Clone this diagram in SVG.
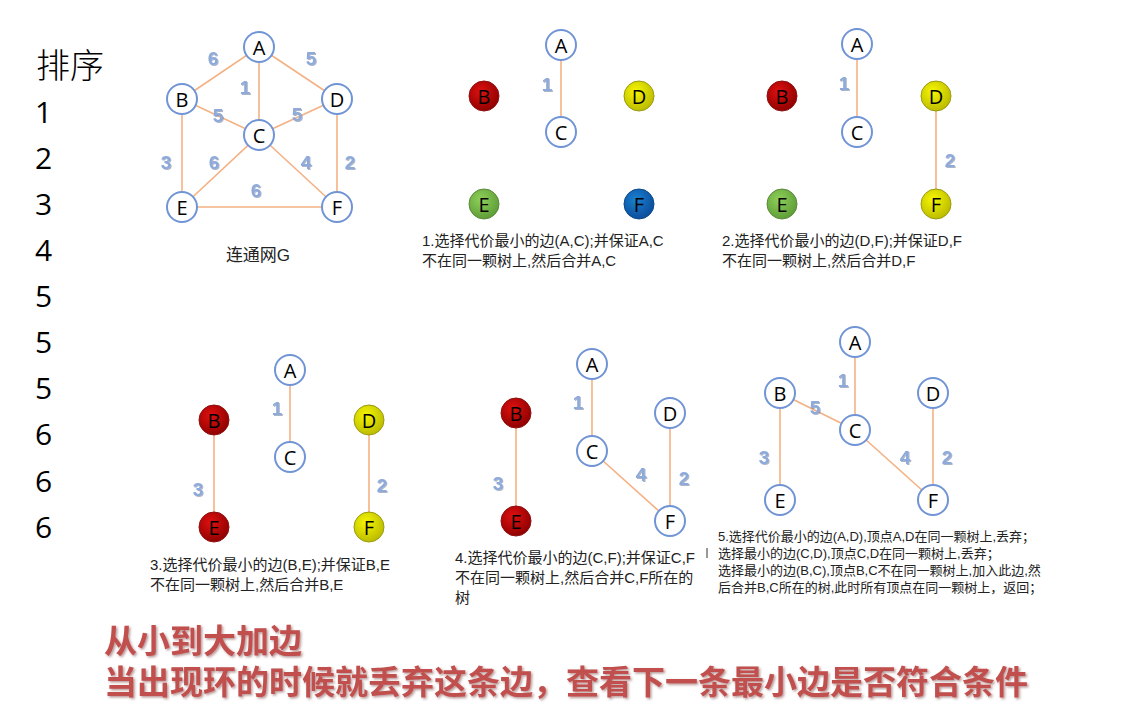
<svg xmlns="http://www.w3.org/2000/svg" width="1134" height="709" viewBox="0 0 1134 709">
<defs>
<style>
.n{fill:#fff;stroke:#7094d6;stroke-width:2}
.red{fill:url(#gR);stroke:#8f1010;stroke-width:1}
.yel{fill:url(#gY);stroke:#9a9a10;stroke-width:1}
.grn{fill:url(#gG);stroke:#5a8a3a;stroke-width:1}
.blu{fill:url(#gB);stroke:#0a4a8a;stroke-width:1}
.nl{font-family:"Open Sans","Noto Sans",sans-serif;font-size:20px;fill:#000;text-anchor:middle;dominant-baseline:central}
.e{stroke:#f4b183;stroke-width:1.6;fill:none}
.w{font-family:"Liberation Sans",Arial,sans-serif;font-weight:bold;font-size:19px;fill:#8eaadb;text-anchor:middle;dominant-baseline:central;filter:url(#sh)}
.cap{font-family:"Liberation Sans","Noto Sans CJK SC",sans-serif;font-size:15px;fill:#222}
.cap5{font-family:"Liberation Sans","Noto Sans CJK SC",sans-serif;font-size:13px;fill:#222}
.num{font-family:"Open Sans","Noto Sans",sans-serif;font-size:30px;fill:#000}
.big{font-family:"Liberation Sans","Noto Sans CJK SC",sans-serif;font-weight:bold;font-size:33px;fill:#c0504d;filter:url(#sh2)}
</style>
<radialGradient id="gR" cx="0.4" cy="0.35" r="0.7"><stop offset="0" stop-color="#e01010"/><stop offset="1" stop-color="#8a0000"/></radialGradient>
<radialGradient id="gY" cx="0.4" cy="0.35" r="0.7"><stop offset="0" stop-color="#f6f600"/><stop offset="1" stop-color="#b8b800"/></radialGradient>
<radialGradient id="gG" cx="0.4" cy="0.35" r="0.7"><stop offset="0" stop-color="#8fd05a"/><stop offset="1" stop-color="#5c9a35"/></radialGradient>
<radialGradient id="gB" cx="0.4" cy="0.35" r="0.7"><stop offset="0" stop-color="#1a80d0"/><stop offset="1" stop-color="#0a4a98"/></radialGradient>
<filter id="sh" x="-20%" y="-20%" width="150%" height="150%"><feDropShadow dx="1" dy="1" stdDeviation="0.6" flood-color="#5a6a90" flood-opacity="0.5"/></filter>
<filter id="sh2" x="-5%" y="-20%" width="110%" height="150%"><feDropShadow dx="1.5" dy="1.5" stdDeviation="0.8" flood-color="#703030" flood-opacity="0.5"/></filter>
</defs>
<rect width="1134" height="709" fill="#fff"/>

<g id="sort-list">
<text x="36" y="78" style="font-family:'Noto Sans CJK SC',sans-serif;font-size:34px;font-weight:300" fill="#000">排序</text>
<text class="num" x="35" y="123">1</text>
<text class="num" x="35" y="169">2</text>
<text class="num" x="35" y="215">3</text>
<text class="num" x="35" y="261">4</text>
<text class="num" x="35" y="307">5</text>
<text class="num" x="35" y="353">5</text>
<text class="num" x="35" y="399">5</text>
<text class="num" x="35" y="445">6</text>
<text class="num" x="35" y="492">6</text>
<text class="num" x="35" y="538">6</text>
</g>

<g id="connectors">
<line class="e" x1="259" y1="47" x2="182" y2="99"/>
<line class="e" x1="259" y1="47" x2="337" y2="99"/>
<line class="e" x1="259" y1="47" x2="259" y2="135"/>
<line class="e" x1="182" y1="99" x2="259" y2="135"/>
<line class="e" x1="337" y1="99" x2="259" y2="135"/>
<line class="e" x1="182" y1="99" x2="182" y2="207"/>
<line class="e" x1="337" y1="99" x2="337" y2="207"/>
<line class="e" x1="259" y1="135" x2="182" y2="207"/>
<line class="e" x1="259" y1="135" x2="337" y2="207"/>
<line class="e" x1="182" y1="207" x2="337" y2="207"/>
<line class="e" x1="561" y1="45" x2="561" y2="132"/>
<line class="e" x1="857" y1="44" x2="857" y2="132"/>
<line class="e" x1="936" y1="96" x2="936" y2="204"/>
<line class="e" x1="290" y1="370" x2="290" y2="457"/>
<line class="e" x1="214" y1="420" x2="214" y2="527"/>
<line class="e" x1="369" y1="420" x2="369" y2="527"/>
<line class="e" x1="592" y1="364" x2="592" y2="451"/>
<line class="e" x1="516" y1="413" x2="516" y2="521"/>
<line class="e" x1="670" y1="413" x2="670" y2="521"/>
<line class="e" x1="592" y1="451" x2="670" y2="521"/>
<line class="e" x1="855" y1="342" x2="855" y2="430"/>
<line class="e" x1="780" y1="393" x2="855" y2="430"/>
<line class="e" x1="780" y1="393" x2="780" y2="500"/>
<line class="e" x1="933" y1="393" x2="933" y2="500"/>
<line class="e" x1="855" y1="430" x2="933" y2="500"/>
<line x1="707" y1="548" x2="707" y2="558" stroke="#333" stroke-width="1"/>
</g>

<g id="weights">
<text class="w" x="213" y="58">6</text>
<text class="w" x="311" y="58">5</text>
<text class="w" x="245" y="87">1</text>
<text class="w" x="218" y="115">5</text>
<text class="w" x="297" y="114">5</text>
<text class="w" x="166" y="162">3</text>
<text class="w" x="214" y="162">6</text>
<text class="w" x="306" y="162">4</text>
<text class="w" x="350" y="162">2</text>
<text class="w" x="256" y="190">6</text>
<text class="w" x="547" y="84">1</text>
<text class="w" x="844" y="83">1</text>
<text class="w" x="950" y="160">2</text>
<text class="w" x="277" y="408">1</text>
<text class="w" x="198" y="489">3</text>
<text class="w" x="382" y="485">2</text>
<text class="w" x="578" y="402">1</text>
<text class="w" x="498" y="483">3</text>
<text class="w" x="641" y="474">4</text>
<text class="w" x="684" y="478">2</text>
<text class="w" x="843" y="380">1</text>
<text class="w" x="815" y="407">5</text>
<text class="w" x="764" y="457">3</text>
<text class="w" x="905" y="457">4</text>
<text class="w" x="947" y="457">2</text>
</g>

<g id="G-A"><circle class="n" cx="259" cy="47" r="15"/><text class="nl" x="259" y="47">A</text></g>
<g id="G-B"><circle class="n" cx="182" cy="99" r="15"/><text class="nl" x="182" y="99">B</text></g>
<g id="G-D"><circle class="n" cx="337" cy="99" r="15"/><text class="nl" x="337" y="99">D</text></g>
<g id="G-C"><circle class="n" cx="259" cy="135" r="15"/><text class="nl" x="259" y="135">C</text></g>
<g id="G-E"><circle class="n" cx="182" cy="207" r="15"/><text class="nl" x="182" y="207">E</text></g>
<g id="G-F"><circle class="n" cx="337" cy="207" r="15"/><text class="nl" x="337" y="207">F</text></g>
<text x="258" y="261" text-anchor="middle" style="font-family:'Liberation Sans','Noto Sans CJK SC',sans-serif;font-size:17px" fill="#222">连通网G</text>

<g id="S1-A"><circle class="n" cx="561" cy="45" r="15"/><text class="nl" x="561" y="45">A</text></g>
<g id="S1-B"><circle class="red" cx="484" cy="96" r="15"/><text class="nl" x="484" y="96">B</text></g>
<g id="S1-D"><circle class="yel" cx="639" cy="96" r="15"/><text class="nl" x="639" y="96">D</text></g>
<g id="S1-C"><circle class="n" cx="561" cy="132" r="15"/><text class="nl" x="561" y="132">C</text></g>
<g id="S1-E"><circle class="grn" cx="484" cy="204" r="15"/><text class="nl" x="484" y="204">E</text></g>
<g id="S1-F"><circle class="blu" cx="639" cy="204" r="15"/><text class="nl" x="639" y="204">F</text></g>
<text class="cap" x="422" y="246">1.选择代价最小的边(A,C);并保证A,C</text>
<text class="cap" x="422" y="266">不在同一颗树上,然后合并A,C</text>

<g id="S2-A"><circle class="n" cx="857" cy="44" r="15"/><text class="nl" x="857" y="44">A</text></g>
<g id="S2-B"><circle class="red" cx="782" cy="96" r="15"/><text class="nl" x="782" y="96">B</text></g>
<g id="S2-D"><circle class="yel" cx="936" cy="96" r="15"/><text class="nl" x="936" y="96">D</text></g>
<g id="S2-C"><circle class="n" cx="857" cy="132" r="15"/><text class="nl" x="857" y="132">C</text></g>
<g id="S2-E"><circle class="grn" cx="782" cy="204" r="15"/><text class="nl" x="782" y="204">E</text></g>
<g id="S2-F"><circle class="yel" cx="936" cy="204" r="15"/><text class="nl" x="936" y="204">F</text></g>
<text class="cap" x="722" y="246">2.选择代价最小的边(D,F);并保证D,F</text>
<text class="cap" x="722" y="266">不在同一颗树上,然后合并D,F</text>

<g id="S3-A"><circle class="n" cx="290" cy="370" r="15"/><text class="nl" x="290" y="370">A</text></g>
<g id="S3-B"><circle class="red" cx="214" cy="420" r="15"/><text class="nl" x="214" y="420">B</text></g>
<g id="S3-D"><circle class="yel" cx="369" cy="420" r="15"/><text class="nl" x="369" y="420">D</text></g>
<g id="S3-C"><circle class="n" cx="290" cy="457" r="15"/><text class="nl" x="290" y="457">C</text></g>
<g id="S3-E"><circle class="red" cx="214" cy="527" r="15"/><text class="nl" x="214" y="527">E</text></g>
<g id="S3-F"><circle class="yel" cx="369" cy="527" r="15"/><text class="nl" x="369" y="527">F</text></g>
<text class="cap" x="150" y="570">3.选择代价最小的边(B,E);并保证B,E</text>
<text class="cap" x="150" y="590">不在同一颗树上,然后合并B,E</text>

<g id="S4-A"><circle class="n" cx="592" cy="364" r="15"/><text class="nl" x="592" y="364">A</text></g>
<g id="S4-B"><circle class="red" cx="516" cy="413" r="15"/><text class="nl" x="516" y="413">B</text></g>
<g id="S4-D"><circle class="n" cx="670" cy="413" r="15"/><text class="nl" x="670" y="413">D</text></g>
<g id="S4-C"><circle class="n" cx="592" cy="451" r="15"/><text class="nl" x="592" y="451">C</text></g>
<g id="S4-E"><circle class="red" cx="516" cy="521" r="15"/><text class="nl" x="516" y="521">E</text></g>
<g id="S4-F"><circle class="n" cx="670" cy="521" r="15"/><text class="nl" x="670" y="521">F</text></g>
<text class="cap" x="455" y="563">4.选择代价最小的边(C,F);并保证C,F</text>
<text class="cap" x="455" y="583">不在同一颗树上,然后合并C,F所在的</text>
<text class="cap" x="455" y="603">树</text>

<g id="S5-A"><circle class="n" cx="855" cy="342" r="15"/><text class="nl" x="855" y="342">A</text></g>
<g id="S5-B"><circle class="n" cx="780" cy="393" r="15"/><text class="nl" x="780" y="393">B</text></g>
<g id="S5-D"><circle class="n" cx="933" cy="393" r="15"/><text class="nl" x="933" y="393">D</text></g>
<g id="S5-C"><circle class="n" cx="855" cy="430" r="15"/><text class="nl" x="855" y="430">C</text></g>
<g id="S5-E"><circle class="n" cx="780" cy="500" r="15"/><text class="nl" x="780" y="500">E</text></g>
<g id="S5-F"><circle class="n" cx="933" cy="500" r="15"/><text class="nl" x="933" y="500">F</text></g>
<text class="cap5" x="718" y="541">5.选择代价最小的边(A,D),顶点A,D在同一颗树上,丢弃；</text>
<text class="cap5" x="718" y="558">选择最小的边(C,D),顶点C,D在同一颗树上,丢弃；</text>
<text class="cap5" x="718" y="575">选择最小的边(B,C),顶点B,C不在同一颗树上,加入此边,然</text>
<text class="cap5" x="718" y="592">后合并B,C所在的树,此时所有顶点在同一颗树上，返回；</text>

<g id="summary">
<text class="big" x="104" y="653">从小到大加边</text>
<text class="big" x="104" y="694">当出现环的时候就丢弃这条边，查看下一条最小边是否符合条件</text>
</g>
</svg>
